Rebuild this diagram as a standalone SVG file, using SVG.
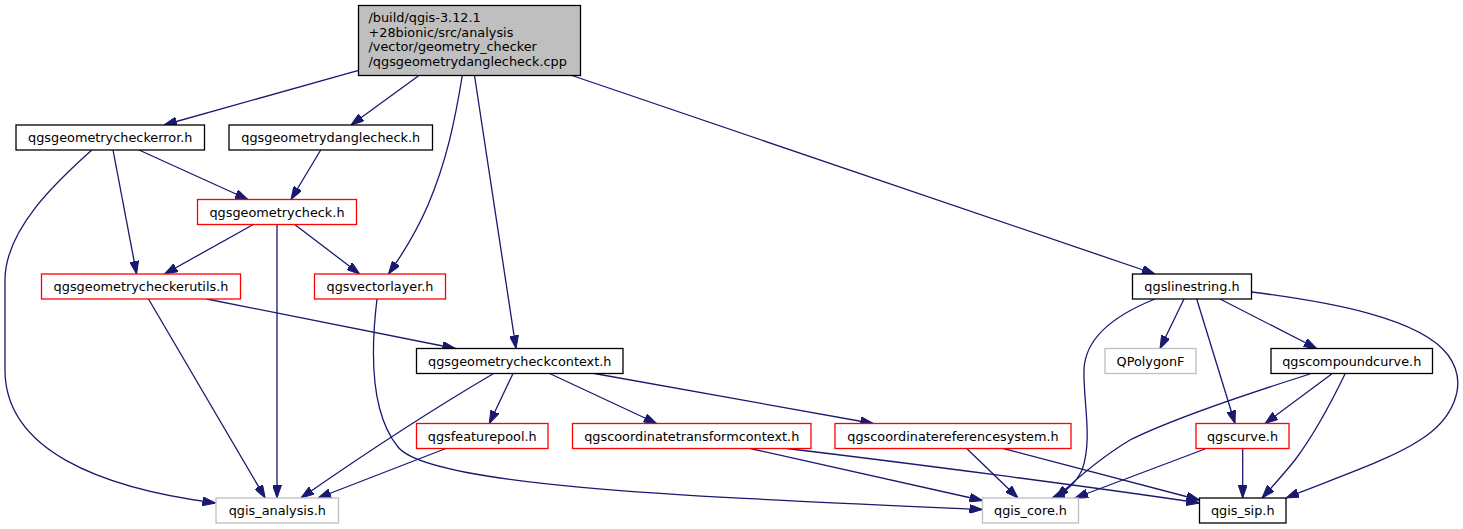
<svg xmlns="http://www.w3.org/2000/svg" width="1463" height="529" viewBox="0 0 1463 529">
<style>
rect{stroke-width:1.3}
.b{fill:#fff;stroke:#000}
.r{fill:#fff;stroke:#f00}
.g{fill:#fff;stroke:#bfbfbf}
.root{fill:#bfbfbf;stroke:#000}
text{font-family:"DejaVu Sans",sans-serif;font-size:12.85px;fill:#000}
.c{text-anchor:middle}
#edges path{fill:none;stroke:#191970;stroke-width:1.3;marker-end:url(#a)}
</style>
<defs>
<marker id="a" markerUnits="userSpaceOnUse" markerWidth="13" markerHeight="9" refX="13" refY="4.5" orient="auto">
<path d="M0,0 L13,4.5 L0,9 z" fill="#191970" stroke="#191970" stroke-width="1"/>
</marker>
</defs>
<rect width="1463" height="529" fill="#fff"/>
<g id="edges">
<path d="M358.6,70.3 L164,125"/>
<path d="M418.3,76 L351,125"/>
<path d="M462.3,75.5 C455,120 447,160 428,205 C418,228 402,255 388.5,274"/>
<path d="M474.5,75.5 L516,348.5"/>
<path d="M572,75.5 L1155,274"/>
<path d="M91.8,150 C68,172 5,225 5,280 L5,370 C5,450 100,488 215.5,503"/>
<path d="M113,150 L136.6,274"/>
<path d="M139,150 L248,199.5"/>
<path d="M320.7,150 L291,199.5"/>
<path d="M253.3,224.5 L164.6,274"/>
<path d="M277,224.5 L277,498"/>
<path d="M294.7,224.5 L359.7,274"/>
<path d="M148.5,299 L265.2,498"/>
<path d="M206.7,299 L455.4,348.5"/>
<path d="M377,299 C372,340 368,410 398,447 C430,487 700,497 982.5,509.5"/>
<path d="M493.7,373.5 C445,402 370,450 301,498"/>
<path d="M513,373.5 L489.3,423.5"/>
<path d="M549.6,373.5 L656.7,423.5"/>
<path d="M594.2,373.5 L873.2,423.5"/>
<path d="M445.8,448.5 L318,498"/>
<path d="M750.4,448.5 L982.5,500.5"/>
<path d="M786.7,448.5 C900,462 1100,488 1199.5,503"/>
<path d="M966.7,448.5 L1018,498"/>
<path d="M1003.3,448.5 L1199.5,500"/>
<path d="M1155,299 C1120,313 1085,335 1084,370 C1083,400 1093,440 1082,470 C1075,485 1064,493 1052,498"/>
<path d="M1184,299 L1160,348.5"/>
<path d="M1196.7,299 L1235,423.5"/>
<path d="M1220,299 L1316.7,348.5"/>
<path d="M1251.5,292 C1330,302 1420,318 1448,355 C1470,385 1452,420 1420,440 C1390,460 1330,480 1286,498"/>
<path d="M1310,374 C1250,393 1170,420 1130,440 C1100,458 1075,480 1056,498"/>
<path d="M1331.7,374 L1265,423.5"/>
<path d="M1345,374 C1330,405 1310,440 1295,460 C1283,475 1272,487 1262,498"/>
<path d="M1205,449 L1075,498"/>
<path d="M1242.7,449 L1242.7,498"/>
</g>
<g id="root"><rect class="root" x="358.5" y="5.5" width="222" height="70"/>
<text x="368.5" y="21.8">/build/qgis-3.12.1</text>
<text x="368.5" y="36.6">+28bionic/src/analysis</text>
<text x="368.5" y="51.4">/vector/geometry_checker</text>
<text x="368.5" y="66.2">/qgsgeometrydanglecheck.cpp</text></g>
<g id="n_err"><rect class="b" x="16" y="125" width="188.5" height="25"/><text class="c" x="110.25" y="142">qgsgeometrycheckerror.h</text></g>
<g id="n_dangle"><rect class="b" x="229" y="125" width="203.5" height="25"/><text class="c" x="330.75" y="142">qgsgeometrydanglecheck.h</text></g>
<g id="n_check"><rect class="r" x="197.5" y="199.5" width="159" height="25"/><text class="c" x="277" y="216.5">qgsgeometrycheck.h</text></g>
<g id="n_utils"><rect class="r" x="41.5" y="274" width="199" height="25"/><text class="c" x="141" y="291">qgsgeometrycheckerutils.h</text></g>
<g id="n_vl"><rect class="r" x="314.5" y="274" width="131" height="25"/><text class="c" x="380" y="291">qgsvectorlayer.h</text></g>
<g id="n_ls"><rect class="b" x="1132.5" y="274" width="119" height="25"/><text class="c" x="1192" y="291">qgslinestring.h</text></g>
<g id="n_ctx"><rect class="b" x="416.5" y="348.5" width="206.5" height="25"/><text class="c" x="519.75" y="365.5">qgsgeometrycheckcontext.h</text></g>
<g id="n_poly"><rect class="g" x="1105" y="348.5" width="91" height="25"/><text class="c" x="1150.5" y="365.5">QPolygonF</text></g>
<g id="n_cc"><rect class="b" x="1271" y="348.5" width="161.5" height="25"/><text class="c" x="1351.75" y="365.5">qgscompoundcurve.h</text></g>
<g id="n_fp"><rect class="r" x="416.5" y="423.5" width="131.5" height="25"/><text class="c" x="482.25" y="440.5">qgsfeaturepool.h</text></g>
<g id="n_ctc"><rect class="r" x="572.5" y="423.5" width="238.5" height="25"/><text class="c" x="691.75" y="440.5">qgscoordinatetransformcontext.h</text></g>
<g id="n_crs"><rect class="r" x="835" y="423.5" width="236" height="25"/><text class="c" x="953" y="440.5">qgscoordinatereferencesystem.h</text></g>
<g id="n_curve"><rect class="r" x="1196" y="423.5" width="93" height="25"/><text class="c" x="1242.5" y="440.5">qgscurve.h</text></g>
<g id="n_ana"><rect class="g" x="216" y="498" width="122.5" height="25"/><text class="c" x="277.25" y="515">qgis_analysis.h</text></g>
<g id="n_core"><rect class="g" x="982.5" y="498" width="96" height="25"/><text class="c" x="1030.5" y="515">qgis_core.h</text></g>
<g id="n_sip"><rect class="b" x="1199.5" y="498" width="86.5" height="25"/><text class="c" x="1242.75" y="515">qgis_sip.h</text></g>
</svg>
